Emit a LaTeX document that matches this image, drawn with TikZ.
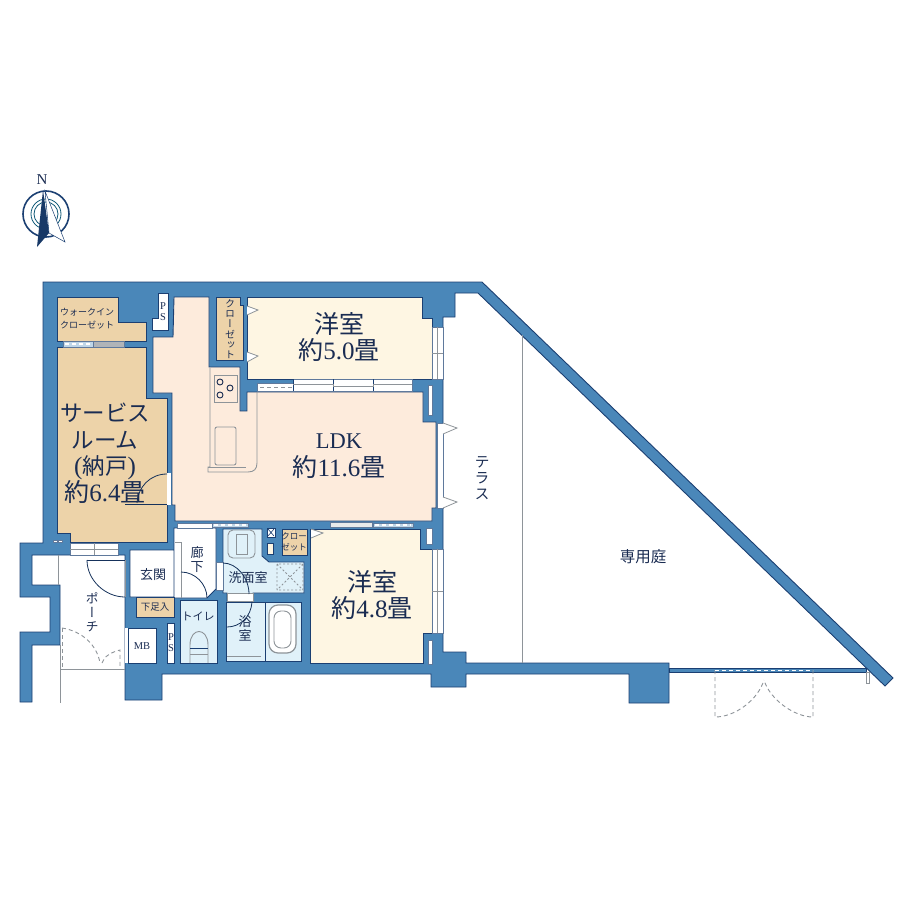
\documentclass[tikz,border=0pt]{standalone}
\usepackage{fontspec}
\setmainfont{Liberation Serif}
\newfontfamily\cjk{Noto Sans CJK JP}
\newfontfamily\cjkv[RawFeature={+vert}]{Noto Sans CJK JP}
\AtBeginDocument{\lineskiplimit=-100pt}
\definecolor{wallblue}{HTML}{4A87B9}
\definecolor{navy}{HTML}{1B3F72}
\definecolor{inktext}{HTML}{1A2C52}
\definecolor{tanroom}{HTML}{EDD3A9}
\definecolor{ldkroom}{HTML}{FDEBDC}
\definecolor{creamroom}{HTML}{FEF6E3}
\definecolor{wetroom}{HTML}{E0F1F9}
\definecolor{thingray}{HTML}{8E9499}
\definecolor{paneblue}{HTML}{BFD6E8}

\begin{document}
\begin{tikzpicture}[x=1pt,y=-1pt,line join=miter,
  wall part/.style={fill=wallblue,draw=navy,line width=0.9pt},
  room part/.style={draw=navy,line width=0.9pt},
  pane part/.style={fill=white,draw=navy!70,line width=0.6pt},
  blue pane/.style={fill=paneblue,draw=navy!70,line width=0.6pt},
  thin line/.style={draw=thingray,line width=0.9pt},
  dash line/.style={draw=thingray,line width=0.9pt,dash pattern=on 4pt off 3pt},
  pane dash/.style={draw=white,line width=1.2pt,dash pattern=on 4pt off 3pt},
  door swing/.style={draw=navy!80!black,line width=0.8pt},
  open tip/.style={fill=white,draw=thingray,line width=0.8pt},
  big label/.style={text=inktext,align=center,font=\fontsize{25}{25.5}\selectfont,inner sep=0pt},
  mid label/.style={text=inktext,align=center,font=\cjk\fontsize{13}{15}\selectfont,inner sep=0pt},
  small label/.style={text=inktext,align=center,font=\cjk\fontsize{9}{12.5}\selectfont,inner sep=0pt},
  down label/.style={text=inktext,align=center,inner sep=0pt}]

  \useasboundingbox (0,0) rectangle (920,920);

  % walls
  \path[wall part] (43,282) -- (482,282) -- (893,678) -- (885,686) -- (478,293) -- (455,293)
    -- (455,317) -- (443,317) -- (443,652) -- (466,652) -- (466,663) -- (669,663) -- (669,703)
    -- (629,703) -- (629,674) -- (466,674) -- (466,687) -- (431,687) -- (431,674) -- (162,674)
    -- (162,700) -- (125,700) -- (125,555) -- (32,555) -- (32,585) -- (60,585) -- (60,645)
    -- (32,645) -- (32,702) -- (20,702) -- (20,632) -- (50,632) -- (50,597) -- (20,597)
    -- (20,543) -- (43,543) -- cycle;
  \path[wall part] (669,668) rectangle (866,672);
  \path[fill=white,thin line] (866,672) rectangle (869,683);
  \path[thin line] (522,335) -- (522,663);

  % rooms
  \path[room part,fill=tanroom] (57,347) -- (146,347) -- (146,398) -- (167,398) -- (167,542)
    -- (70,542) -- (70,533) -- (57,533) -- cycle;
  \path[room part,fill=tanroom] (57,297) -- (118,297) -- (118,322) -- (146,322) -- (146,341)
    -- (57,341) -- cycle;
  \path[room part,fill=white] (158,293) -- (168,293) -- (168,330) -- (152,330) -- (152,318)
    -- (158,318) -- cycle;
  \path[room part,fill=ldkroom] (174,297) -- (209,297) -- (209,367) -- (240,367) -- (240,411)
    -- (247,411) -- (247,392) -- (423,392) -- (423,422) -- (436,422) -- (436,508) -- (432,508)
    -- (432,521) -- (175,521) -- (175,505) -- (172,505) -- (172,393) -- (153,393) -- (153,337)
    -- (173,337) -- cycle;
  \path[room part,fill=creamroom] (247,297) -- (422,297) -- (422,318) -- (432,318) -- (432,379)
    -- (247,379) -- cycle;
  \path[room part,fill=tanroom] (216,297) -- (240,297) -- (240,305) -- (243,305) -- (243,360)
    -- (216,360) -- cycle;
  \path[room part,fill=creamroom] (310,529) -- (420,529) -- (420,549) -- (432,549) -- (432,633)
    -- (423,633) -- (423,663) -- (310,663) -- cycle;
  \path[room part,fill=wetroom] (223,529) -- (262,529) -- (262,556) -- (269,562) -- (304,562)
    -- (304,593) -- (253,593) -- (253,601) -- (227,601) -- (227,593) -- (223,593) -- cycle;
  \path[room part,fill=wetroom] (226,602) -- (301,602) -- (301,661) -- (226,661) -- cycle;
  \path[room part,fill=tanroom] (282,529) rectangle (307,555);
  \path[room part,fill=wetroom] (180,600) rectangle (217,663);
  \path[room part,fill=white] (175,528) -- (216,528) -- (216,589) -- (207,598) -- (174,598)
    -- (174,550) -- (130,550) -- (130,597) -- (174,597) -- (174,528) -- cycle;
  \path[room part,fill=tanroom] (136,597) rectangle (174,617);
  \path[room part,fill=white] (128,628) rectangle (156,663);
  \path[room part,fill=white] (167,623) rectangle (174,663);
  \path[fill=white] (125,628) rectangle (128,663);
  \path[thin line] (175,542) -- (181,542) -- (181,598);

  % windows and slots
  \path[blue pane] (63,341) rectangle (93,347);
  \path[fill=thingray!70,draw=navy!70,line width=0.6pt] (93,341) rectangle (124,347);
  \path[pane part] (257,383) rectangle (293,391);
  \path[pane part] (293,379) rectangle (412,391);
  \path[pane part] (177,523) rectangle (212,528);
  \path[blue pane] (212,523) rectangle (248,527);
  \path[pane part,fill=white!80!thingray] (330,522) rectangle (372,527);
  \path[blue pane] (373,523) rectangle (413,527);
  \path[pane part] (432,327) rectangle (443,379);
  \path[pane part] (437,423) rectangle (443,508);
  \path[pane part] (432,549) rectangle (443,633);
  \path[pane part] (70,543) rectangle (118,555);
  \path[pane part] (428,385) rectangle (432,415);
  \path[pane part] (426,528) rectangle (432,544);
  \path[pane part] (428,640) rectangle (432,664);
  \path[fill=white] (167,473) rectangle (171,505);
  \path[fill=white,draw=navy!70,line width=0.5pt] (216.5,562) rectangle (223,590);
  \path[fill=white,thin line] (227,593) rectangle (253,601);
  \path[pane dash] (65,344) -- (92,344);
  \path[dash line] (260,387) -- (292,387);
  \path[pane dash] (214,525) -- (246,525);
  \path[pane dash] (375,525) -- (411,525);
  \path[room part,line width=0.7pt] (293,379) -- (293,391) (333,379) -- (333,391) (373,379) -- (373,391);
  \path[thin line] (293,384) -- (333,384) -- (333,386) -- (373,386) -- (373,384) -- (412,384);
  \path[thin line] (437.5,327) -- (437.5,379) (432,353) -- (443,353);
  \path[thin line] (437.5,549) -- (437.5,633) (432,591) -- (443,591);
  \path[thin line] (70,549) -- (118,549) (94,543) -- (94,555);
  \path[pane part] (53,540) rectangle (57,542);
  \path[pane part] (58,540) rectangle (62,542);

  % fixed things
  \path[open tip] (247,306) -- (258,310) -- (247,315);
  \path[open tip] (247,352) -- (258,356) -- (247,362);
  \path[open tip] (311,529) -- (323,533) -- (311,538);
  \path[open tip] (443,423) -- (457,428) -- (443,434);
  \path[open tip] (443,497) -- (457,502) -- (443,508);

  \path[thin line] (210,368) -- (210,467) -- (208,467) -- (208,472) -- (248,472)
    .. controls (254,472) and (257,469) .. (257,463) -- (257,392);
  \path[thin line] (208,467) -- (246,467);
  \path[thin line,fill=ldkroom] (214,375) rectangle (237,402);
  \node[draw=inktext,line width=0.9pt,circle,minimum size=6pt,inner sep=0pt] (ringa) at (220,382) {};
  \node[draw=inktext,line width=0.9pt,circle,minimum size=6pt,inner sep=0pt] (ringb) at (230,388) {};
  \node[draw=inktext,line width=0.9pt,circle,minimum size=6pt,inner sep=0pt] (ringc) at (220,395) {};
  \path[thin line,rounded corners=2pt] (215,427) rectangle (236,465);

  \path[thin line,rounded corners=5pt] (228,530) rectangle (255,558);
  \path[thin line,fill=wetroom] (236,534) rectangle (247,554);
  \path[room part,fill=white] (267,528) rectangle (275,537);
  \path[navy,line width=0.6pt,draw] (268,529) -- (274,536) (274,529) -- (268,536);
  \path[room part,fill=creamroom,line width=0.6pt] (267,543) rectangle (273,554);
  \path[dash line,line width=0.8pt,dash pattern=on 2pt off 2pt] (277,564) rectangle (303,590)
    (277,564) -- (303,590) (303,564) -- (277,590);

  \path[room part,line width=0.7pt] (265,602) -- (265,661);
  \path[thin line,line width=1.2pt,fill=white,rounded corners=9pt] (269,605) rectangle (296,653);
  \path[thin line,rounded corners=7pt] (274,611) rectangle (291,648);
  \path[thin line] (227,656) -- (261,656);

  \path[thin line] (190,663) -- (190,645) .. controls (190,627) and (208,627) .. (208,645) -- (208,663);
  \path[room part,line width=0.7pt] (190,648) -- (208,648);
  \path[thin line] (190,654) -- (208,654);

  % doors
  \path[door swing] (125,504) -- (167,504);
  \path[door swing] (167,474) .. controls (150,474) and (138,487) .. (137,503);
  \path[door swing] (87,560) -- (125,560);
  \path[door swing] (87,560) .. controls (87,580) and (105,597) .. (125,597);
  \path[door swing] (181,572) .. controls (195,572) and (207,584) .. (207,598);
  \path[door swing] (223,563) .. controls (237,563) and (249,578) .. (249,594);
  \path[door swing] (227,627) .. controls (240,627) and (251,617) .. (252,602);
  \path[thin line] (125,560) -- (125,597);
  \path[thin line] (58,555) -- (58,585);
  \path[thin line] (60,645) -- (60,703);
  \path[thin line] (60,669) -- (125,669);

  \path[dash line] (62,628) -- (62,667);
  \path[dash line] (62,628) .. controls (82,631) and (97,645) .. (100,663);
  \path[dash line] (102,663) .. controls (104,656) and (112,652) .. (120,650) -- (120,667);
  \path[dash line] (715,670) -- (715,717) .. controls (735,717) and (758,700) .. (764,680);
  \path[dash line] (813,670) -- (813,717) .. controls (795,717) and (770,700) .. (764,680);
  \path[dash line,draw=white] (715,670) -- (813,670);

  % compass
  \path[draw=navy,line width=1.6pt] (46,214) circle [radius=23pt];
  \path[draw=navy!60!teal,line width=0.8pt] (46,214) circle [radius=15pt];
  \path[draw=navy!60!teal,line width=0.8pt] (46,214) circle [radius=12pt];
  \path[fill=white,draw=navy,line width=0.5pt] (45,191) -- (65,242) -- (49,233) -- cycle;
  \path[fill=navy!90!black] (43,190) -- (49,233) -- (37,247) -- cycle;
  \node[down label,font=\fontsize{15}{15}\selectfont] (north) at (42,180) {N};

  % labels
  \node[big label] (room5) at (339,337) {{\cjk 洋室}\\{\cjk 約}5.0{\cjk 畳}};
  \node[big label,font=\fontsize{25}{28}\selectfont] (ldk) at (339,456) {{\fontsize{22.5}{28}\selectfont LDK}\\{\cjk 約}11.6{\cjk 畳}};
  \node[big label] (room48) at (372,595) {{\cjk 洋室}\\{\cjk 約}4.8{\cjk 畳}};
  \node[big label,font=\fontsize{25}{26.5}\selectfont] (service) at (105,453) {{\cjk\fontsize{22.5}{26.5}\selectfont サービス}\\{\cjk\fontsize{22.5}{26.5}\selectfont ルーム}\\({\cjk\fontsize{22.5}{26.5}\selectfont 納戸})\\{\cjk 約}6.4{\cjk 畳}};
  \node[small label] (walkin) at (87,318.5) {ウォークイン\\クローゼット};
  \node[down label,font=\cjkv\fontsize{10}{10.3}\selectfont] (closeta) at (230,329) {ク\\ロ\\ー\\ゼ\\ッ\\ト};
  \node[small label,font=\cjk\fontsize{8.5}{11}\selectfont] (closetb) at (294,541.5) {クロー\\ゼット};
  \node[down label,font=\fontsize{10.5}{11}\selectfont] (ps1) at (163,312) {P\\S};
  \node[down label,font=\fontsize{10.5}{11}\selectfont] (ps2) at (171,643) {P\\S};
  \node[down label,font=\fontsize{10.5}{11}\selectfont] (mb) at (142,646) {MB};
  \node[mid label] (entry) at (153,575) {玄関};
  \node[small label,font=\cjk\fontsize{9.5}{11}\selectfont] (shoes) at (155,607) {下足入};
  \node[down label,font=\cjkv\fontsize{13}{14}\selectfont] (porch) at (92,612) {ポ\\ー\\チ};
  \node[small label,font=\cjk\fontsize{11}{12}\selectfont] (toilet) at (198,616) {トイレ};
  \node[down label,font=\cjk\fontsize{13}{14}\selectfont] (hall) at (197,560) {廊\\下};
  \node[mid label] (wash) at (248,578) {洗面室};
  \node[down label,font=\cjk\fontsize{13}{14}\selectfont] (bath) at (245,628) {浴\\室};
  \node[down label,font=\cjkv\fontsize{15}{16}\selectfont] (terrace) at (482,478) {テ\\ラ\\ス};
  \node[mid label,font=\cjk\fontsize{15.5}{16}\selectfont] (garden) at (643,557) {専用庭};
\end{tikzpicture}
\end{document}
